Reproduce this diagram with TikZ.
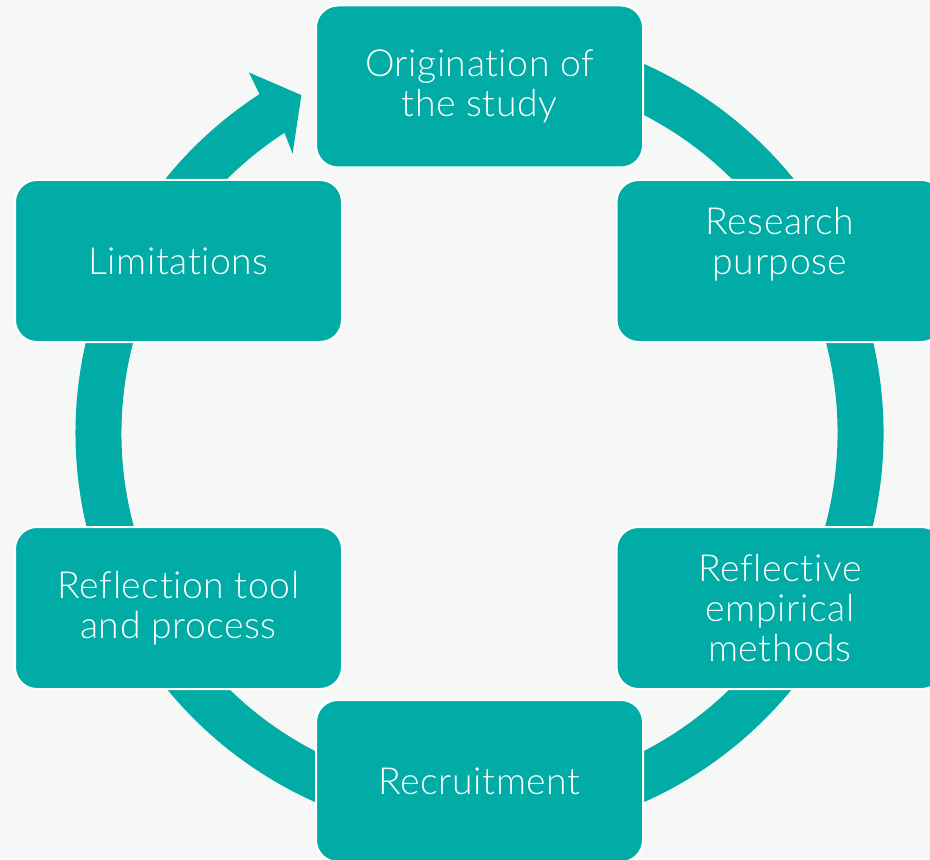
\documentclass[tikz,border=0pt]{standalone}
\usepackage{fontspec}
\setmainfont{Lato Light}[Ligatures=NoCommon,LetterSpace=1.5]
\definecolor{teal}{RGB}{0,172,165}
\definecolor{bgc}{RGB}{246,248,248}
\begin{document}
\begin{tikzpicture}[x=0.75pt,y=0.75pt,
  box/.style={rectangle, rounded corners=16.5pt, minimum width=245.25pt, minimum height=121.5pt,
    fill=teal, draw=white, line width=1.5pt, text=white, align=center, inner sep=0pt,
    font=\fontsize{28pt}{30pt}\selectfont}]
\useasboundingbox (0,0) rectangle (930,-859);
\fill[bgc] (0,0) rectangle (930,-859);
\clip (0,0) rectangle (930,-859);
\begin{scope}[shift={(479.5,-433)}]
\fill[teal] (100:404) arc[start angle=100, end angle=-237, radius=404]
  -- (-237.4:428) -- (-242.2:382) -- (-236.2:336) -- (-237:358)
  arc[start angle=-237, end angle=100, radius=358] -- cycle;
\end{scope}
\node[box] (orig) at (479.5,-86.5) {Origination of\\the study};
\node[box] (purp) at (780,-261) {Research\\purpose\\\mbox{}};
\node[box] (refl) at (780,-608) {Reflective\\empirical\\methods};
\node[box] (recr) at (479.5,-781) {Recruitment};
\node[box] (tool) at (178.5,-608) {Reflection tool\\and process};
\node[box] (lim) at (178.5,-261) {Limitations};
\end{tikzpicture}
\end{document}
